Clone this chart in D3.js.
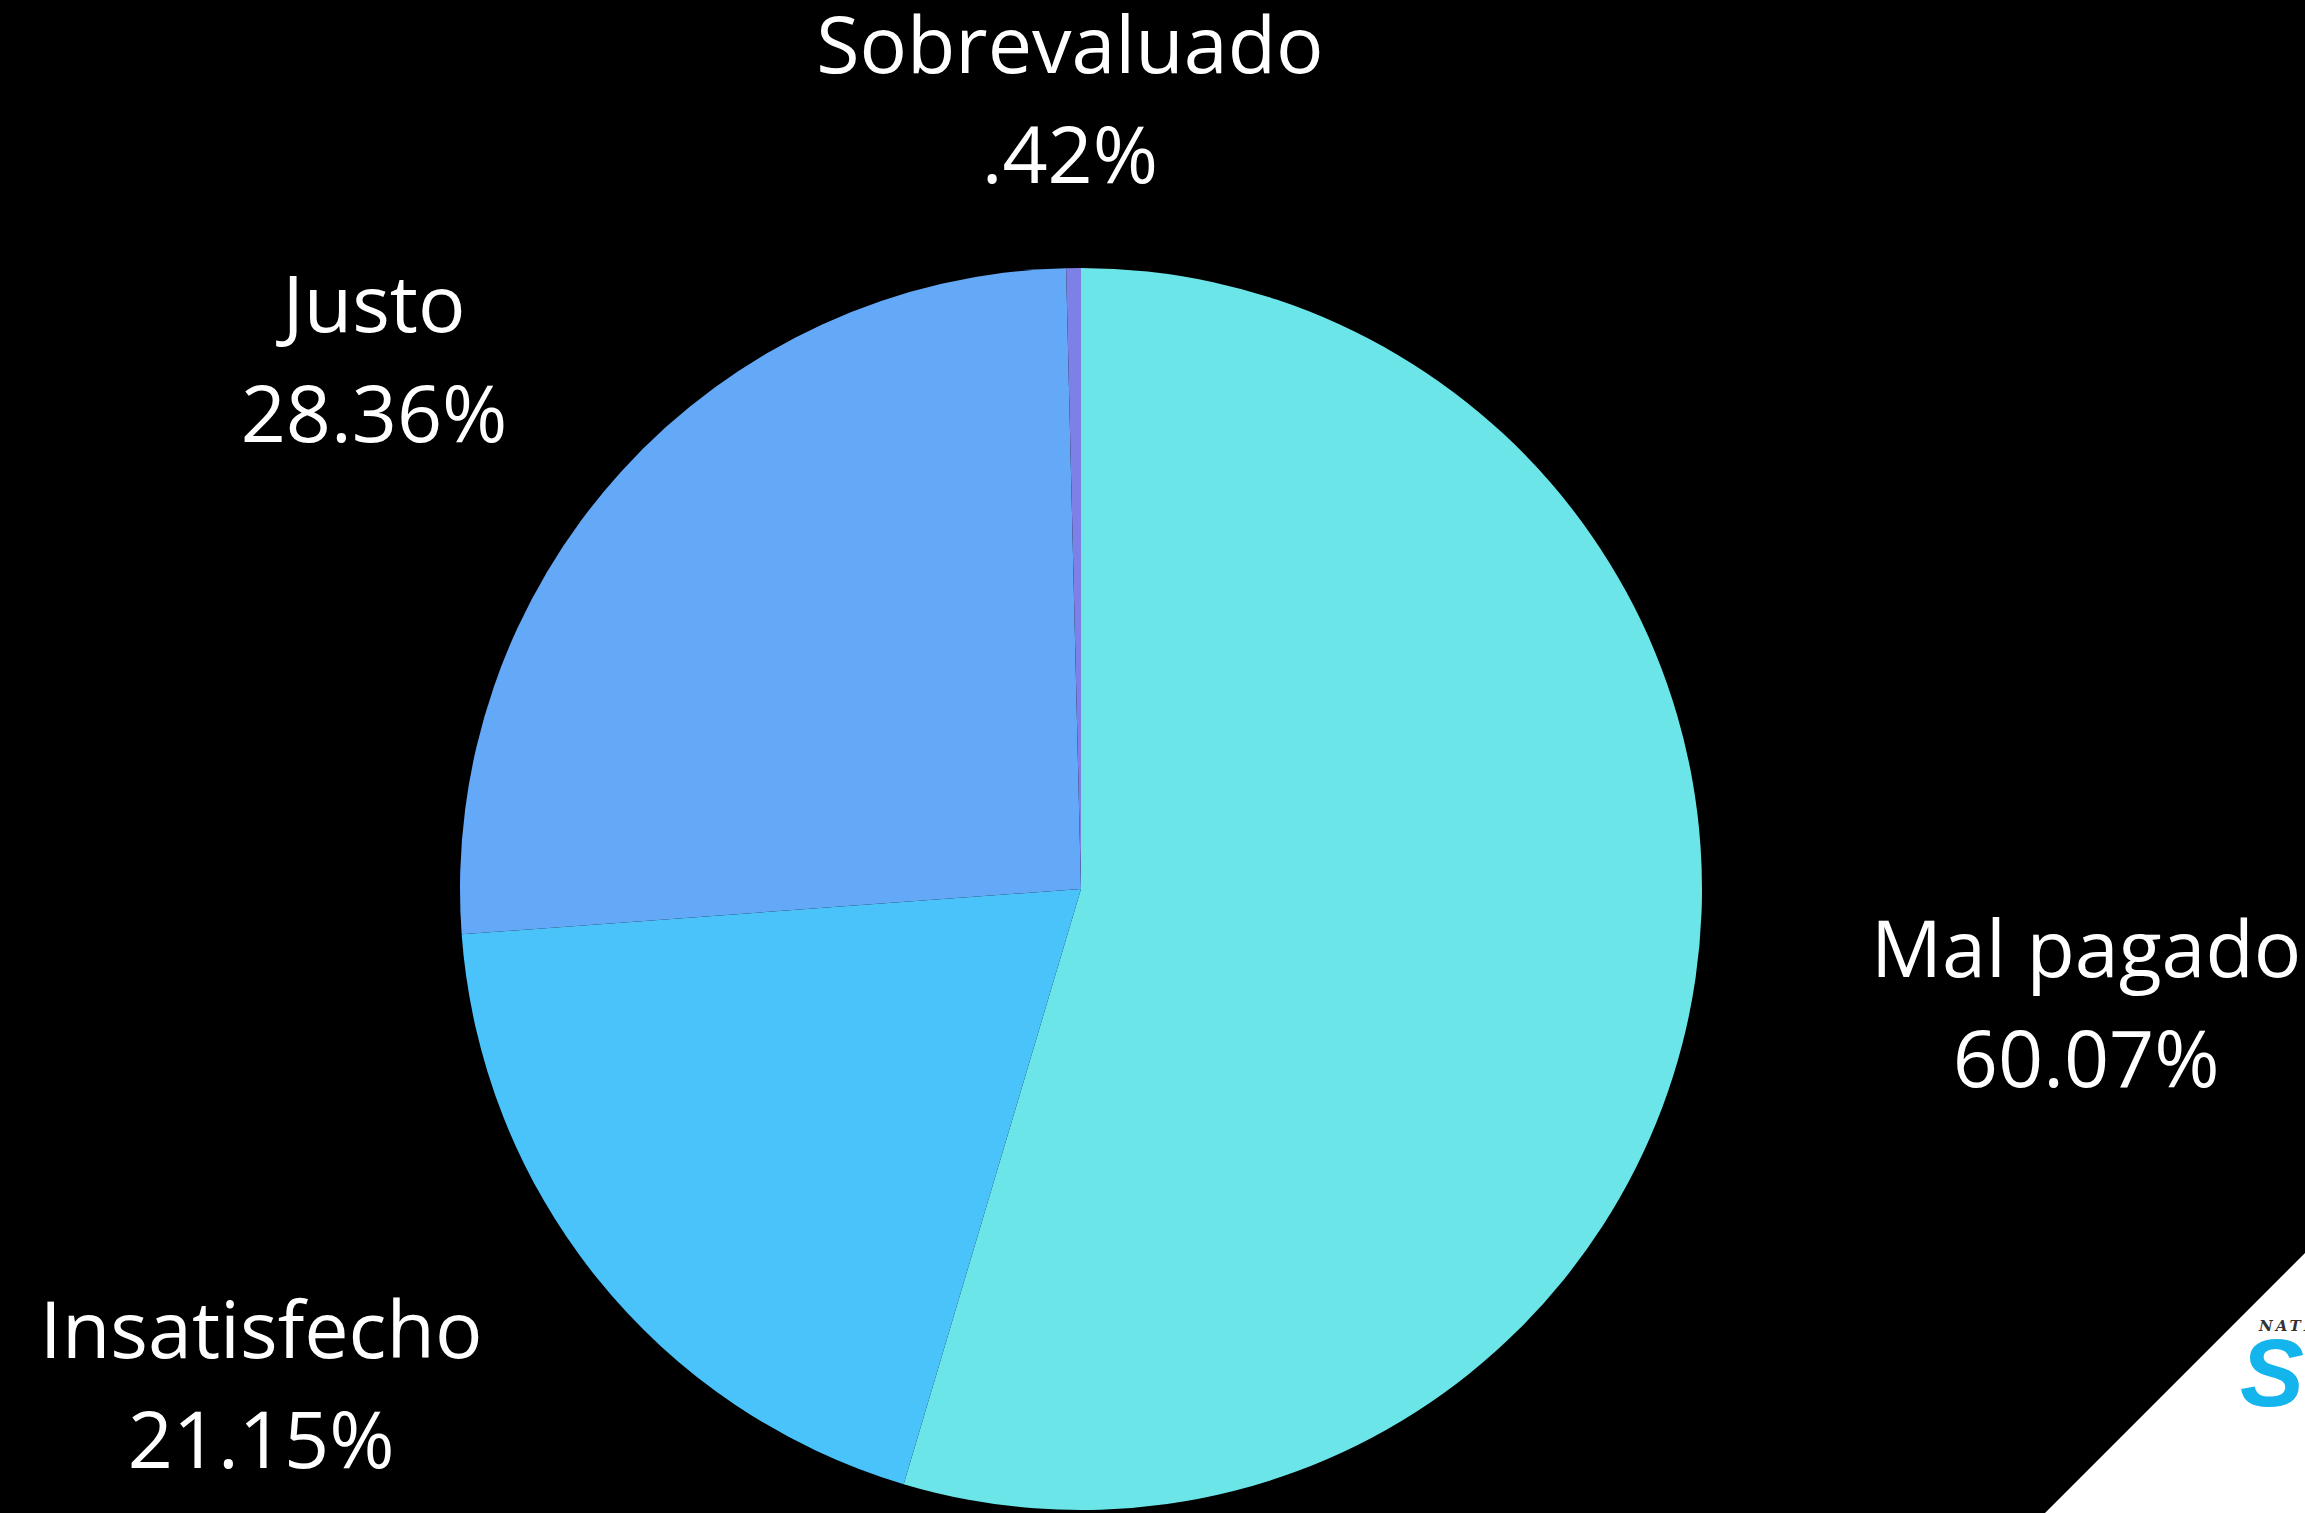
<!DOCTYPE html>
<html>
<head>
<meta charset="utf-8">
<script src="https://cdn.jsdelivr.net/npm/d3@7"></script>
<style>
  body { margin: 0; background: #000; }
  svg { display: block; }
</style>
</head>
<body>
<div class="main-container"></div>
<script>
// valores de la encuesta
var categories = ["Mal pagado", "Insatisfecho", "Justo", "Sobrevaluado"];
var values = [60.07, 21.15, 28.36, 0.42];
var valueLabels = ["60.07%", "21.15%", "28.36%", ".42%"];
var colors = ["#6ce5e8", "#4ac3fb", "#64a8f8", "#7d80e6"];

var width = 2305, height = 1513;
var cx = 1081, cy = 889, radius = 621;

var svg = d3.select(".main-container")
    .append("svg")
    .attr("width", width)
    .attr("height", height);

svg.append("rect")
    .attr("width", width)
    .attr("height", height)
    .style("fill", "#000");

var pie = d3.pie().sort(null).value(function (d) { return d; });
var arcs = pie(values);

var arc = d3.arc().innerRadius(0).outerRadius(radius);

var g = svg.append("g").attr("transform", "translate(" + cx + "," + cy + ")");

g.selectAll("path")
    .data(arcs)
    .enter()
    .append("path")
    .attr("d", arc)
    .style("fill", function (d, i) { return colors[i]; });

// etiquetas en una elipse alrededor del pastel
var ry = 790;
var labels = g.selectAll("g.label")
    .data(arcs)
    .enter()
    .append("g")
    .attr("class", "label")
    .attr("transform", function (d) {
        var a = (d.startAngle + d.endAngle) / 2;
        var rx = 1005 - 75 * Math.cos(a);
        return "translate(" + (rx * Math.sin(a)) + "," + (-ry * Math.cos(a)) + ")";
    });

labels.append("text")
    .attr("text-anchor", "middle")
    .attr("y", -26)
    .style("font-family", "'Open Sans', sans-serif")
    .style("font-size", "79px")
    .style("fill", "#fff")
    .text(function (d, i) { return categories[i]; });

labels.append("text")
    .attr("text-anchor", "middle")
    .attr("y", 84)
    .style("font-family", "'Open Sans', sans-serif")
    .style("font-size", "79px")
    .style("fill", "#fff")
    .text(function (d, i) { return valueLabels[i]; });

// esquina blanca con logo
svg.append("path")
    .attr("d", "M2045,1513 L2305,1253 L2305,1513 Z")
    .style("fill", "#fff");

svg.append("text")
    .attr("x", 2259)
    .attr("y", 1331)
    .style("font-family", "'DejaVu Serif', serif")
    .style("font-style", "italic")
    .style("font-weight", "bold")
    .style("font-size", "15px")
    .style("letter-spacing", "3px")
    .style("fill", "#333")
    .text("NATI");

svg.append("text")
    .attr("x", 2240)
    .attr("y", 1406)
    .style("font-family", "'Liberation Sans', sans-serif")
    .style("font-style", "italic")
    .style("font-weight", "bold")
    .style("font-size", "96px")
    .style("fill", "#14b4ec")
    .text("SC");
</script>
</body>
</html>
